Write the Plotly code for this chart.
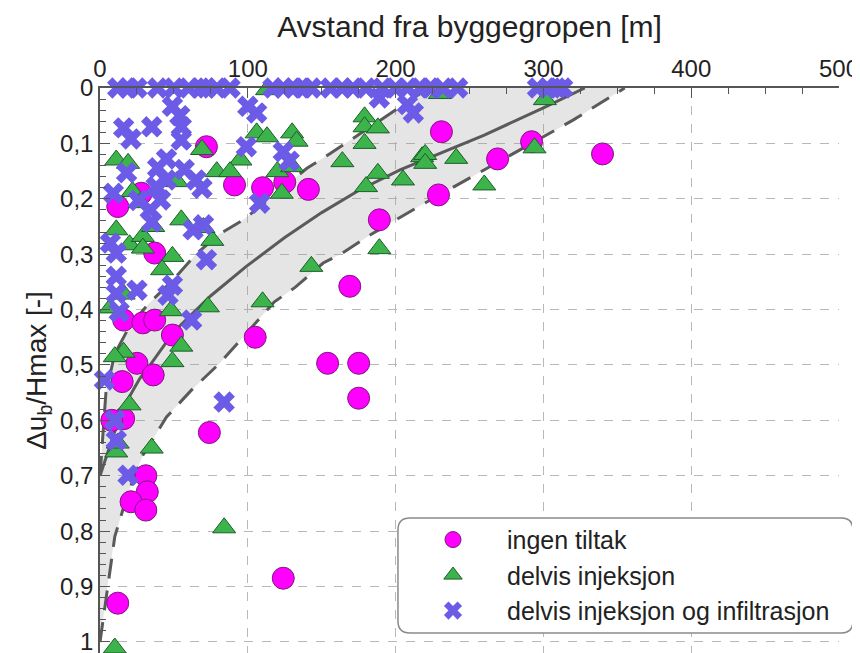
import plotly.graph_objects as go

# ---------------- data ----------------
circ_x = [72, 91, 110, 125, 141, 12, 28, 189, 37, 169, 231, 269, 292, 340, 229,
          16, 29, 37, 49, 105, 25, 36, 15, 154, 175, 175, 16, 8, 74, 31, 32, 21, 31, 124, 12]
circ_y = [0.106, 0.175, 0.18, 0.17, 0.183, 0.214, 0.19, 0.238, 0.298, 0.358, 0.079, 0.128, 0.097, 0.119, 0.193,
          0.419, 0.424, 0.419, 0.446, 0.45, 0.497, 0.518, 0.53, 0.497, 0.497, 0.56, 0.597, 0.6, 0.622,
          0.70, 0.729, 0.747, 0.762, 0.885, 0.93]

tri_x = [113, 230, 106, 113, 130, 133, 69, 11, 19, 95, 79, 88, 120, 130, 52, 123, 22, 27, 164, 179,
         179, 188, 179, 188, 180, 189, 218, 205, 55, 11, 20, 29, 29, 36, 76, 70, 49, 143, 110, 73,
         48, 16, 7, 42, 301, 294, 220, 220, 241, 260, 16, 10, 55, 49, 20, 35, 11, 12, 84, 10]
tri_y = [0.003, 0.01, 0.081, 0.088, 0.081, 0.096, 0.111, 0.13, 0.136, 0.13, 0.151, 0.151, 0.151, 0.142, 0.169,
         0.19, 0.187, 0.207, 0.133, 0.052, 0.07, 0.072, 0.1, 0.154, 0.178, 0.29, 0.124, 0.166, 0.238, 0.256,
         0.283, 0.268, 0.289, 0.25, 0.275, 0.252, 0.304, 0.322, 0.386, 0.395, 0.402, 0.372, 0.397, 0.328,
         0.021, 0.108, 0.12, 0.136, 0.127, 0.175, 0.477, 0.485, 0.466, 0.494, 0.572, 0.65, 0.657, 0.641,
         0.794, 1.011]

cross_x = [12, 19, 25, 39, 50, 60, 68, 72, 79, 88, 117, 124, 131, 137, 143, 156, 164, 171, 180, 191,
           200, 208, 217, 223, 232, 242, 296, 303, 309, 313,
           100, 106, 49, 54, 16, 35, 55, 21, 55, 189, 208, 212, 99, 124, 128, 18, 39, 45, 57, 65,
           69, 45, 38, 9, 26, 34, 41, 108, 7, 11, 70, 72, 63, 35, 11, 25, 49, 46, 11, 13,
           62, 3, 10, 11, 19, 84]
cross_y = [0] * 30 + [
           0.033, 0.045, 0.033, 0.05, 0.072, 0.07, 0.07, 0.092, 0.094, 0.018, 0.03, 0.045, 0.106, 0.115,
           0.132, 0.153, 0.144, 0.128, 0.147, 0.166, 0.181, 0.166, 0.178, 0.19, 0.203, 0.22, 0.202, 0.208,
           0.28, 0.298, 0.247, 0.31, 0.256, 0.242, 0.34, 0.365, 0.356, 0.374, 0.371, 0.404, 0.419, 0.527,
           0.6, 0.636, 0.699, 0.567]

# reference curves
mid_x = [0, 15, 27, 34, 50, 75, 99, 125, 150, 175, 203, 230, 260, 300, 328]
mid_y = [0.70, 0.58, 0.524, 0.50, 0.44, 0.375, 0.322, 0.27, 0.225, 0.185, 0.148, 0.118, 0.085, 0.036, 0.0]

inner_x = [0, 4, 10, 20, 32, 50, 65, 80, 97, 120, 140, 156, 185, 210, 222]
inner_y = [0.70, 0.55, 0.48, 0.43, 0.392, 0.345, 0.30, 0.265, 0.238, 0.188, 0.145, 0.118, 0.067, 0.022, 0.0]

outer_x = [0, 3, 6, 10, 16, 22, 29, 45, 62, 81, 100, 118, 132, 151, 164, 183, 215, 254, 284, 320, 346, 355]
outer_y = [1.0, 0.94, 0.88, 0.81, 0.757, 0.71, 0.663, 0.594, 0.545, 0.497, 0.44, 0.386, 0.36, 0.316,
           0.298, 0.265, 0.215, 0.157, 0.112, 0.058, 0.015, 0.0]

series_names = ["ingen tiltak", "delvis injeksjon", "delvis injeksjon og infiltrasjon"]

# ---------------- figure ----------------
fig = go.Figure()

fig.add_trace(go.Scatter(x=inner_x + outer_x[::-1], y=inner_y + outer_y[::-1], fill="toself",
                         fillcolor="rgba(150,150,150,0.25)", line=dict(width=0), mode="lines",
                         showlegend=False, hoverinfo="skip"))
fig.add_trace(go.Scatter(x=inner_x, y=inner_y, mode="lines", showlegend=False,
                         line=dict(color="#5a5a5a", width=3, dash="20px,12px")))
fig.add_trace(go.Scatter(x=outer_x, y=outer_y, mode="lines", showlegend=False,
                         line=dict(color="#5a5a5a", width=3, dash="20px,12px")))
fig.add_trace(go.Scatter(x=mid_x, y=mid_y, mode="lines", showlegend=False,
                         line=dict(color="#5a5a5a", width=3)))

fig.add_trace(go.Scatter(x=circ_x, y=circ_y, mode="markers", name=series_names[0], cliponaxis=False,
                         marker=dict(symbol="circle", size=22, color="#ff00ff",
                                     line=dict(color="#7a1a7a", width=1))))
fig.add_trace(go.Scatter(x=tri_x, y=tri_y, mode="markers", name=series_names[1], cliponaxis=False,
                         marker=dict(symbol="triangle-up", size=20, color="#3cb44b",
                                     line=dict(color="#1d5e29", width=1))))
fig.add_trace(go.Scatter(x=cross_x, y=cross_y, mode="markers", name=series_names[2], cliponaxis=False,
                         marker=dict(symbol="x", size=19, color="#6b5be6",
                                     line=dict(color="#6b5be6", width=0))))

axis_common = dict(showline=True, linecolor="#555555", linewidth=1.5, mirror=False,
                   showgrid=True, gridcolor="#b8b8b8", griddash="dash", gridwidth=1.2,
                   zeroline=False, ticks="inside", ticklen=10, tickwidth=1.3, tickcolor="#555555",
                   tickfont=dict(size=24, color="#222222"), ticklabeloverflow="allow")

fig.update_xaxes(side="top", range=[0, 500], tick0=0, dtick=100,
                 title=dict(text="Avstand fra byggegropen [m]", font=dict(size=30, color="#222222"),
                            standoff=8),
                 minor=dict(dtick=25, ticks="inside", ticklen=6, tickcolor="#555555", showgrid=False),
                 automargin=False, **axis_common)
fig.update_yaxes(range=[1.02, 0], tick0=0, dtick=0.1,
                 title=dict(text="Δu<sub>b</sub>/Hmax [-]", font=dict(size=28, color="#222222"),
                            standoff=5),
                 minor=dict(dtick=0.02, ticks="inside", ticklen=6, tickcolor="#555555", showgrid=False),
                 automargin=False, **axis_common)

# rounded legend frame (paper coordinates)
x0, x1, y0, y1 = 0.4032, 1.0189, 0.0354, 0.2389
rx, ry = 0.0162, 0.0212
path = (f"M {x0+rx},{y1} L {x1-rx},{y1} Q {x1},{y1} {x1},{y1-ry} L {x1},{y0+ry} "
        f"Q {x1},{y0} {x1-rx},{y0} L {x0+rx},{y0} Q {x0},{y0} {x0},{y0+ry} "
        f"L {x0},{y1-ry} Q {x0},{y1} {x0+rx},{y1} Z")
fig.add_shape(type="path", path=path, xref="paper", yref="paper", layer="above",
              fillcolor="white", line=dict(color="#8a8a8a", width=1.5))

# the page body has an 8px margin: figure is 852x645 so that it fills the 860x653 window
fig.update_layout(
    width=852, height=645,
    margin=dict(l=92, r=21, t=80, b=0, autoexpand=False),
    paper_bgcolor="white", plot_bgcolor="white",
    separators=", ",
    font=dict(family="Liberation Sans, Arial, sans-serif", color="#222222"),
    legend=dict(x=0.4046, y=0.241, xanchor="left", yanchor="top", bgcolor="rgba(0,0,0,0)",
                borderwidth=0, font=dict(size=25, color="#222222"), itemwidth=98,
                tracegroupgap=0),
)

fig.write_html("out.html")
